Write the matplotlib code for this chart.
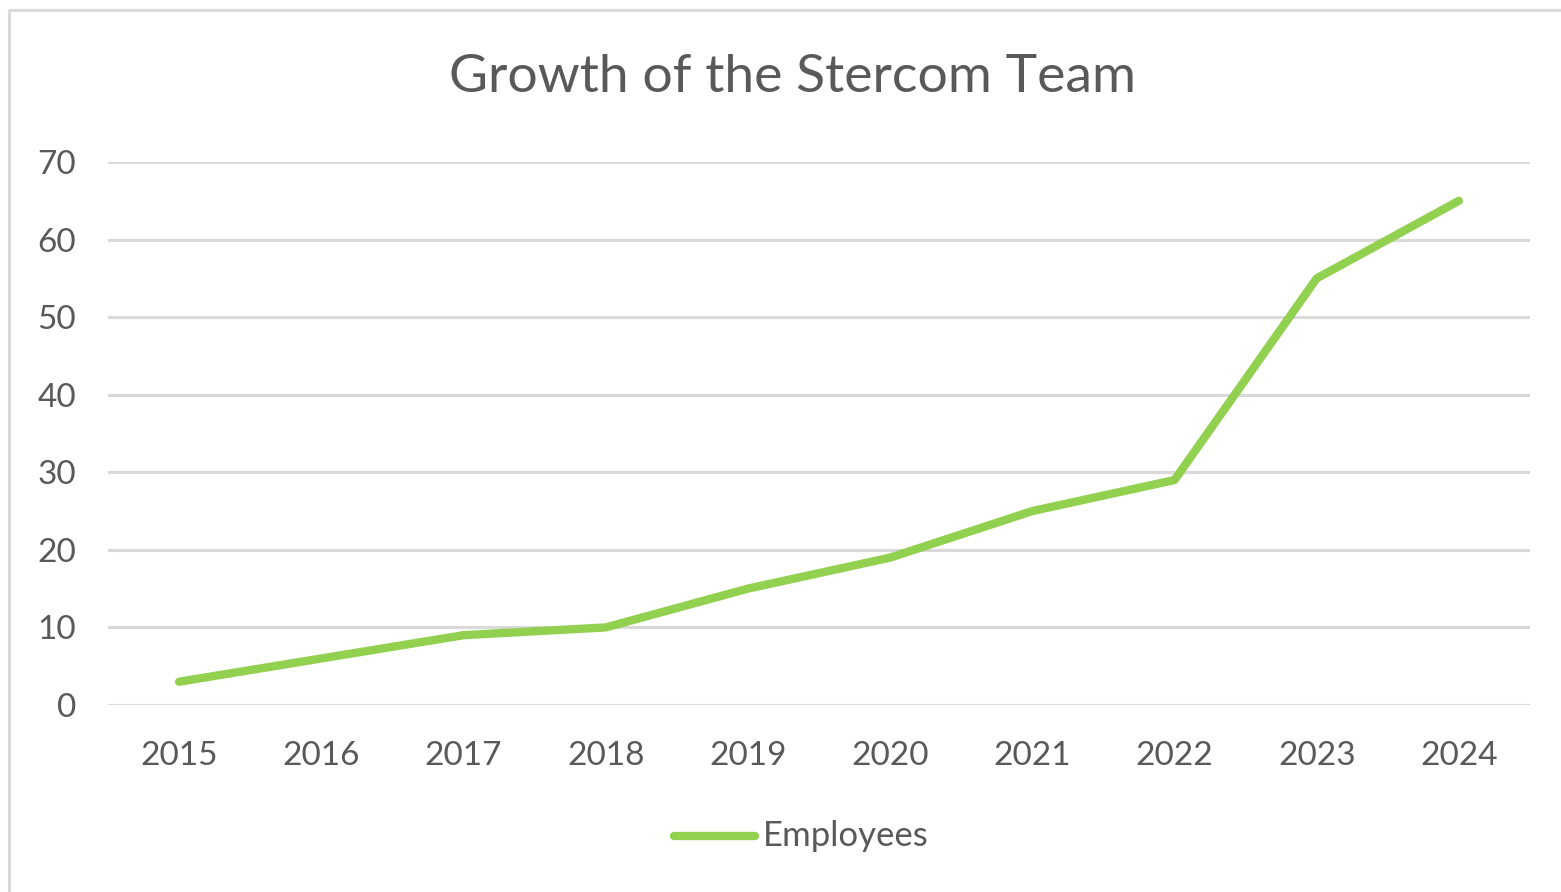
import matplotlib.pyplot as plt
from matplotlib.lines import Line2D

years = ['2015', '2016', '2017', '2018', '2019', '2020', '2021', '2022', '2023', '2024']
employees = [3, 6, 9, 10, 15, 19, 25, 29, 55, 65]
y_ticks = [0, 10, 20, 30, 40, 50, 60, 70]

plt.rcParams['font.family'] = ['Lato', 'DejaVu Sans']
text_color = '#595959'
grid_color = '#d9d9d9'
line_color = '#92d050'

W, H = 1561, 892
fig = plt.figure(figsize=(W / 100, H / 100), dpi=100)
ax = fig.add_axes([108 / W, 1 - 705 / H, (1530 - 108) / W, (705 - 162) / H])

x = list(range(len(years)))
ax.plot(x, employees, color=line_color, lw=6, solid_capstyle='round',
        solid_joinstyle='round', zorder=3)

ax.set_xlim(-0.5, len(years) - 0.5)
ax.set_ylim(0, 70)
ax.set_yticks(y_ticks)
ax.set_xticks(x)
ax.set_xticklabels(years)
for s in ax.spines.values():
    s.set_visible(False)
ax.grid(axis='y', color=grid_color, lw=2.2)
ax.set_axisbelow(True)
ax.tick_params(length=0, labelsize=24, colors=text_color)
ax.tick_params(axis='y', pad=23)
ax.tick_params(axis='x', pad=26)

fig.text(792 / W, 1 - 78 / H, 'Growth of the Stercom Team', ha='center', va='center',
         fontsize=38.5, color=text_color)

# legend
fig.add_artist(Line2D([674 / W, 755 / W], [1 - 836 / H, 1 - 836 / H], color=line_color,
                      lw=6, solid_capstyle='round'))
fig.text(763 / W, 1 - 836 / H, 'Employees', ha='left', va='center',
         fontsize=25, color=text_color)

# chart border
fig.add_artist(Line2D([9 / W, 9 / W, 1], [0, 1 - 10 / H, 1 - 10 / H], color=grid_color, lw=2.2))

fig.savefig('out.png', dpi=100, facecolor='white')
